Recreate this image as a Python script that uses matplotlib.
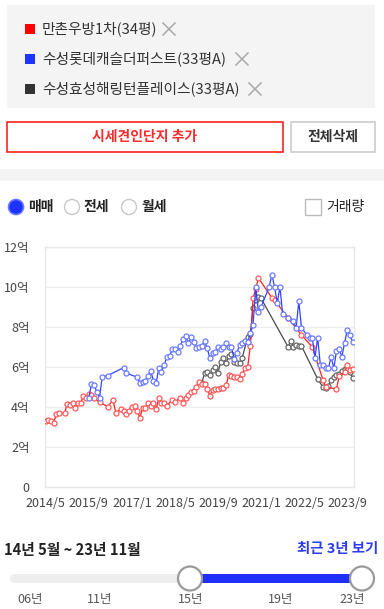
import matplotlib
matplotlib.use("Agg")
import matplotlib.pyplot as plt
from matplotlib.patches import Rectangle, Circle, FancyBboxPatch

plt.rcParams['font.family'] = ['Noto Sans CJK KR', 'DejaVu Sans']

# ---- data (month index: 0 = 2014/5) ----
red_m = [0, 1, 2, 3, 4, 5, 7, 8, 9, 10, 11, 12, 13, 14, 15, 16, 17, 18, 20, 23, 25, 26, 28, 29, 30, 31,
         32, 33, 34, 35, 36, 37, 38, 39, 40, 41, 42, 43, 44, 45, 47, 48, 50, 51, 52, 53, 54, 55, 56, 57,
         58, 59, 60, 61, 62, 63, 64, 65, 66, 67, 68, 69, 70, 71, 72, 73, 74, 75, 76, 77, 78, 79, 84, 85,
         90, 95, 99, 103, 104, 108, 109, 111, 112, 113, 114]
red_v = [3.31, 3.36, 3.32, 3.22, 3.67, 3.70, 3.70, 4.14, 4.10, 4.19, 3.97, 4.19, 4.22, 4.55, 4.44, 4.64,
         4.60, 4.44, 4.24, 4.02, 4.35, 3.72, 3.89, 3.80, 3.66, 3.78, 4.02, 4.07, 3.82, 3.47, 3.97, 3.94,
         4.19, 4.07, 4.22, 3.90, 4.44, 4.19, 4.22, 4.07, 4.35, 4.27, 4.44, 4.22, 4.45, 4.62, 4.75, 4.80,
         5.00, 5.24, 5.15, 5.15, 4.90, 4.57, 4.85, 4.90, 4.90, 4.94, 4.94, 5.10, 5.60, 5.55, 5.52, 5.49,
         5.40, 5.64, 5.97, 5.99, 7.05, 9.43, 9.90, 10.45, 9.46, 9.35, 8.45, 7.60, 7.00, 5.35, 5.00, 4.90,
         5.55, 5.73, 6.08, 5.85, 5.89]

blue_m = [16, 17, 18, 19, 20, 21, 23, 29, 30, 34, 35, 36, 37, 38, 39, 40, 41, 42, 43, 44, 45, 46, 47, 48,
          49, 50, 51, 52, 53, 54, 55, 56, 57, 58, 59, 60, 61, 62, 63, 64, 65, 66, 67, 68, 69, 70, 71, 72,
          73, 74, 75, 76, 77, 78, 79, 80, 83, 84, 85, 86, 87, 88, 90, 92, 93, 94, 95, 97, 98, 99, 100, 101,
          102, 103, 104, 105, 106, 107, 108, 109, 110, 111, 112, 113, 114]
blue_v = [4.44, 5.15, 5.10, 4.74, 4.47, 5.52, 5.57, 5.97, 5.69, 5.49, 5.19, 5.27, 5.30, 5.55, 5.82, 5.32,
          5.19, 5.94, 5.77, 6.10, 6.51, 6.55, 6.88, 6.88, 6.76, 7.06, 7.40, 7.53, 7.18, 7.51, 7.23, 6.95,
          7.02, 7.06, 7.30, 6.93, 6.43, 6.71, 6.76, 7.01, 6.88, 6.98, 7.18, 6.98, 7.01, 6.38, 6.71, 7.10,
          7.21, 7.30, 7.26, 7.68, 8.10, 10.00, 8.76, 9.01, 10.00, 10.62, 10.00, 9.21, 10.00, 8.63, 8.46,
          8.31, 7.93, 9.29, 7.96, 7.60, 7.46, 7.46, 6.46, 7.46, 6.10, 6.10, 5.93, 5.93, 6.51, 5.93, 6.80,
          6.88, 6.51, 7.21, 7.85, 7.60, 7.23]

black_m = [58, 59, 60, 61, 62, 63, 64, 65, 66, 67, 68, 69, 70, 71, 72, 73, 75, 76, 77, 78, 79, 80, 90, 91,
           92, 93, 94, 95, 101, 103, 104, 105, 106, 107, 108, 109, 110, 111, 112, 113, 114]
black_v = [5.22, 5.69, 5.77, 5.60, 5.85, 6.02, 5.72, 6.26, 6.43, 6.18, 6.55, 6.65, 6.26, 6.18, 6.18, 6.46,
           7.51, 7.65, 8.93, 9.34, 9.51, 9.43, 7.01, 7.30, 7.01, 7.10, 7.05, 7.05, 5.40, 4.99, 4.97, 5.05,
           5.35, 5.52, 5.60, 5.65, 5.82, 5.89, 5.94, 5.77, 5.44]

series_names = ['만촌우방1차(34평)', '수성롯데캐슬더퍼스트(33평A)', '수성효성해링턴플레이스(33평A)']
x_tick_pos = [0, 16, 32, 48, 64, 80, 96, 112]
x_tick_labels = ['2014/5', '2015/9', '2017/1', '2018/5', '2019/9', '2021/1', '2022/5', '2023/9']
y_ticks = [0, 2, 4, 6, 8, 10, 12]
y_tick_labels = ['0', '2억', '4억', '6억', '8억', '10억', '12억']
slider_labels = ['06년', '11년', '15년', '19년', '23년']
slider_label_x = [30, 100, 191, 281, 352]

RED = '#ff1f1f'
BLUE = '#2f45ff'

fig = plt.figure(figsize=(3.84, 6.09), dpi=100)
fig.patch.set_facecolor('white')

# overlay in pixel coordinates
ov = fig.add_axes([0, 0, 1, 1], zorder=0)
ov.set_xlim(0, 384)
ov.set_ylim(609, 0)
ov.axis('off')

# top legend box
ov.add_patch(Rectangle((7, 5), 368, 103, color='#f4f4f4', lw=0))
sq_cols = ['#ff0000', '#1f35ff', '#333333']
rows_y = [29, 59, 89]
x_ends = [(163, 175), (236, 248), (249, 261)]
for name, c, y, (xa, xb) in zip(series_names, sq_cols, rows_y, x_ends):
    ov.add_patch(Rectangle((25, y - 5), 10, 10, color=c, lw=0))
    ov.text(42, y, name, fontsize=10.6, color='#333333', va='center', ha='left')
    ov.plot([xa, xb], [y - 6, y + 6], color='#aaaaaa', lw=1.1)
    ov.plot([xa, xb], [y + 6, y - 6], color='#aaaaaa', lw=1.1)

# buttons
ov.add_patch(Rectangle((7, 122), 276, 30, fill=False, ec='#ff2020', lw=1.2))
ov.text(145, 137, '시세견인단지 추가', fontsize=10, color='#ff2a2a', ha='center', va='center',
        fontweight='bold')
ov.add_patch(Rectangle((291, 122), 84, 30, facecolor='white', ec='#cccccc', lw=1.2))
ov.text(333, 137, '전체삭제', fontsize=10, color='#333333', ha='center', va='center',
        fontweight='bold')

# separator band
ov.add_patch(Rectangle((0, 169), 384, 12, color='#f4f4f4', lw=0))

# radio buttons
ov.add_patch(Circle((16, 207), 7.5, facecolor='#1a33ff', ec='#6a78ff', lw=1.2))
ov.text(28, 207, '매매', fontsize=10, color='#222222', va='center', fontweight='bold')
ov.add_patch(Circle((72, 207), 7.5, facecolor='white', ec='#c8c8c8', lw=1.0))
ov.text(84, 207, '전세', fontsize=10, color='#222222', va='center', fontweight='bold')
ov.add_patch(Circle((129, 207), 7.5, facecolor='white', ec='#c8c8c8', lw=1.0))
ov.text(141, 207, '월세', fontsize=10, color='#222222', va='center', fontweight='bold')
ov.add_patch(Rectangle((305, 199), 16, 16, facecolor='white', ec='#bbbbbb', lw=1.0))
ov.text(326, 207, '거래량', fontsize=10, color='#222222', va='center')

# bottom range controls
ov.text(4, 550, '14년 5월 ~ 23년 11월', fontsize=10.6, color='#222222', va='center',
        fontweight='bold')
ov.text(378, 549, '최근 3년 보기', fontsize=10.4, color='#2d3cf0', va='center', ha='right',
        fontweight='bold')
ov.add_patch(FancyBboxPatch((10, 574), 358, 9, boxstyle='round,pad=0,rounding_size=4.5',
                            color='#eeeeee', lw=0))
ov.add_patch(Rectangle((190, 574), 172, 9, color='#1f2fff', lw=0))
for cx in (190, 362):
    ov.add_patch(Circle((cx, 578.5), 12, facecolor='white', ec='#9a9a9a', lw=1.6, zorder=5))
for lab, lx in zip(slider_labels, slider_label_x):
    ov.text(lx, 600, lab, fontsize=9, color='#555555', ha='center', va='center')

# chart
L, R, T, B = 45, 354, 247, 487
ax = fig.add_axes([L / 384, 1 - B / 609, (R - L) / 384, (B - T) / 609], zorder=2)
ax.set_facecolor('white')

mk = dict(marker='o', markersize=3.6, markerfacecolor='white', markeredgewidth=0.9)
ax.plot(black_m, black_v, color='#4a4a4a', lw=0.9, markeredgecolor='#666666', **mk, zorder=3)
ax.plot(red_m, red_v, color=RED, lw=0.9, markeredgecolor='#ff5a5a', **mk, zorder=4)
ax.plot(blue_m, blue_v, color=BLUE, lw=0.9, markeredgecolor='#6b7bff', **mk, zorder=5)

ax.set_xlim(-0.26, 114.5)
ax.set_ylim(0, 12)
ax.set_yticks(y_ticks)
ax.set_yticklabels(y_tick_labels)
ax.set_xticks(x_tick_pos)
ax.set_xticklabels(x_tick_labels)
ax.tick_params(axis='both', length=0, labelsize=9, labelcolor='#444444')
ax.tick_params(axis='y', pad=11)
ax.tick_params(axis='x', pad=7)
ax.grid(axis='y', color='#eeeeee', lw=1.0)
ax.set_axisbelow(True)
for s in ax.spines.values():
    s.set_color('#e8e8e8')
    s.set_linewidth(1.0)

fig.savefig('out.png', dpi=100, facecolor='white')
